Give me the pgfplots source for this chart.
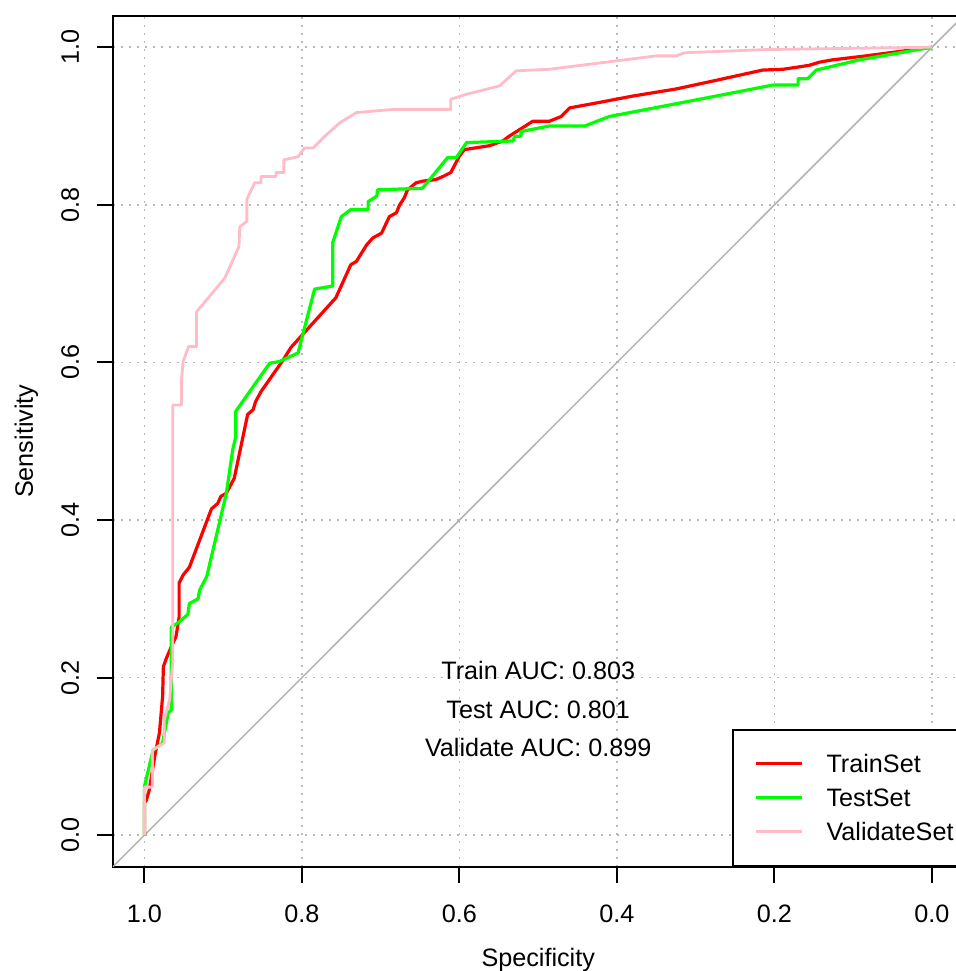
\documentclass[border=0pt]{standalone}
\usepackage{fontspec}
\setmainfont{Liberation Sans}
\usepackage{pgfplots}
\pgfplotsset{compat=1.18}
\usetikzlibrary{calc}

\definecolor{rocred}{RGB}{255,0,0}
\definecolor{rocgreen}{RGB}{0,255,0}
\definecolor{rocpink}{RGB}{255,188,200}
\definecolor{gridgray}{RGB}{185,185,185}
\definecolor{diaggray}{RGB}{178,178,178}
\newcommand{\rfont}{\fontsize{12.6}{15}\selectfont}

\begin{document}
\begin{tikzpicture}
\begin{axis}[
    scale only axis,
    width=425.25pt, height=425.5pt,
    x dir=reverse,
    xmin=-0.04, xmax=1.04, ymin=-0.04, ymax=1.04,
    xtick={0,0.2,0.4,0.6,0.8,1}, ytick={0,0.2,0.4,0.6,0.8,1},
    xticklabels={0.0,0.2,0.4,0.6,0.8,1.0},
    yticklabels={0.0,0.2,0.4,0.6,0.8,1.0},
    xtick pos=bottom, ytick pos=left,
    tick align=outside, major tick length=8pt,
    tick style={black, line width=1pt},
    axis line style={black, line width=1pt},
    grid=major,
    major grid style={gridgray, line width=0.8pt, dash pattern=on 1pt off 3pt},
    xticklabel style={font=\rfont, anchor=base, inner sep=0pt, yshift=-20pt},
    yticklabel style={font=\rfont, xshift=-9pt, rotate=90, anchor=base, inner sep=0pt},
    xlabel={Specificity}, ylabel={Sensitivity},
    xlabel style={at={(axis description cs:0.5,-0.1175)}, anchor=base, font=\rfont},
    ylabel style={at={(axis description cs:-0.0941,0.5)}, anchor=base, font=\rfont},
    legend style={at={(axis description cs:0.7275,0)}, anchor=south west,
        draw=black, line width=1pt, fill=white, font=\rfont,
        inner xsep=11.15pt, inner ysep=8.5pt, row sep=0pt,
        nodes={inner sep=0pt, text height=13pt, text depth=4pt},
        /tikz/every odd column/.append style={column sep=11.35pt}},
    legend cell align=left,
    legend image code/.code={\draw[#1, line width=1.4pt] (0pt,0pt) -- (23pt,0pt);},
]
\addplot[diaggray, line width=0.75pt, forget plot] coordinates {(1.04,-0.04) (-0.04,1.04)};

% TrainSet
\addplot[rocred, line width=1.6pt, line join=round] coordinates {
(1.000,0.000) (1.000,0.043) (0.998,0.043) (0.994,0.057) (0.987,0.100) (0.981,0.130)
(0.977,0.176) (0.976,0.214) (0.972,0.225) (0.966,0.239) (0.960,0.252) (0.956,0.277)
(0.956,0.320) (0.951,0.330) (0.943,0.340) (0.915,0.414) (0.907,0.421) (0.903,0.430)
(0.896,0.434) (0.886,0.453) (0.869,0.534) (0.862,0.540) (0.859,0.550) (0.852,0.563)
(0.824,0.603) (0.814,0.619) (0.757,0.682) (0.738,0.724) (0.731,0.728) (0.718,0.749)
(0.710,0.758) (0.699,0.764) (0.689,0.785) (0.680,0.790) (0.676,0.800) (0.670,0.809)
(0.666,0.819) (0.655,0.828) (0.647,0.830) (0.630,0.832) (0.621,0.836) (0.611,0.841)
(0.600,0.862) (0.594,0.870) (0.562,0.875) (0.545,0.881) (0.537,0.887) (0.507,0.906)
(0.486,0.906) (0.471,0.912) (0.460,0.923) (0.422,0.930) (0.380,0.938) (0.325,0.947)
(0.274,0.958) (0.215,0.971) (0.189,0.972) (0.156,0.977) (0.143,0.981) (0.126,0.984)
(0.084,0.989) (0.000,1.000)};
\addlegendentry{TrainSet}

% TestSet
\addplot[rocgreen, line width=1.6pt, line join=round] coordinates {
(1.000,0.000) (1.000,0.062) (0.989,0.108) (0.977,0.117) (0.970,0.155) (0.966,0.159)
(0.966,0.264) (0.958,0.269) (0.945,0.280) (0.943,0.294) (0.932,0.300) (0.930,0.311)
(0.921,0.328) (0.896,0.434) (0.888,0.489) (0.884,0.506) (0.884,0.538) (0.841,0.599)
(0.829,0.601) (0.805,0.612) (0.784,0.693) (0.761,0.697) (0.761,0.752) (0.750,0.785)
(0.738,0.794) (0.716,0.794) (0.716,0.804) (0.705,0.811) (0.704,0.819) (0.647,0.821)
(0.615,0.860) (0.604,0.860) (0.591,0.879) (0.532,0.881) (0.530,0.887) (0.522,0.887)
(0.522,0.893) (0.486,0.900) (0.441,0.900) (0.410,0.912) (0.295,0.934) (0.202,0.952)
(0.170,0.952) (0.170,0.960) (0.158,0.960) (0.147,0.971) (0.092,0.984) (0.000,1.000)};
\addlegendentry{TestSet}

% ValidateSet
\addplot[rocpink, line width=1.4pt, line join=round] coordinates {
(1.000,0.000) (1.000,0.061) (0.990,0.061) (0.990,0.108) (0.975,0.117) (0.975,0.146)
(0.968,0.172) (0.964,0.222) (0.964,0.546) (0.953,0.546) (0.953,0.578) (0.951,0.601)
(0.944,0.620) (0.934,0.620) (0.934,0.664) (0.898,0.707) (0.880,0.747) (0.879,0.772)
(0.870,0.779) (0.870,0.807) (0.860,0.828) (0.852,0.828) (0.852,0.836) (0.833,0.836)
(0.833,0.841) (0.823,0.841) (0.823,0.857) (0.805,0.861) (0.797,0.872) (0.786,0.872)
(0.769,0.889) (0.752,0.904) (0.731,0.917) (0.685,0.921) (0.611,0.921) (0.611,0.934)
(0.592,0.940) (0.549,0.951) (0.528,0.970) (0.486,0.972) (0.350,0.989) (0.325,0.989)
(0.314,0.993) (0.211,0.997) (0.000,1.000)};
\addlegendentry{ValidateSet}

\node[anchor=base, font=\rfont] at (axis cs:0.5,0.198) {Train AUC: 0.803};
\node[anchor=base, font=\rfont] at (axis cs:0.5,0.148) {Test AUC: 0.801};
\node[anchor=base, font=\rfont] at (axis cs:0.5,0.0997) {Validate AUC: 0.899};

\coordinate (bl) at (axis description cs:0,0);
\end{axis}
\pgfresetboundingbox
\useasboundingbox ($(bl)+(-56.5pt,-52.15pt)$) rectangle ++(478pt,485.5pt);
\end{tikzpicture}
\end{document}
